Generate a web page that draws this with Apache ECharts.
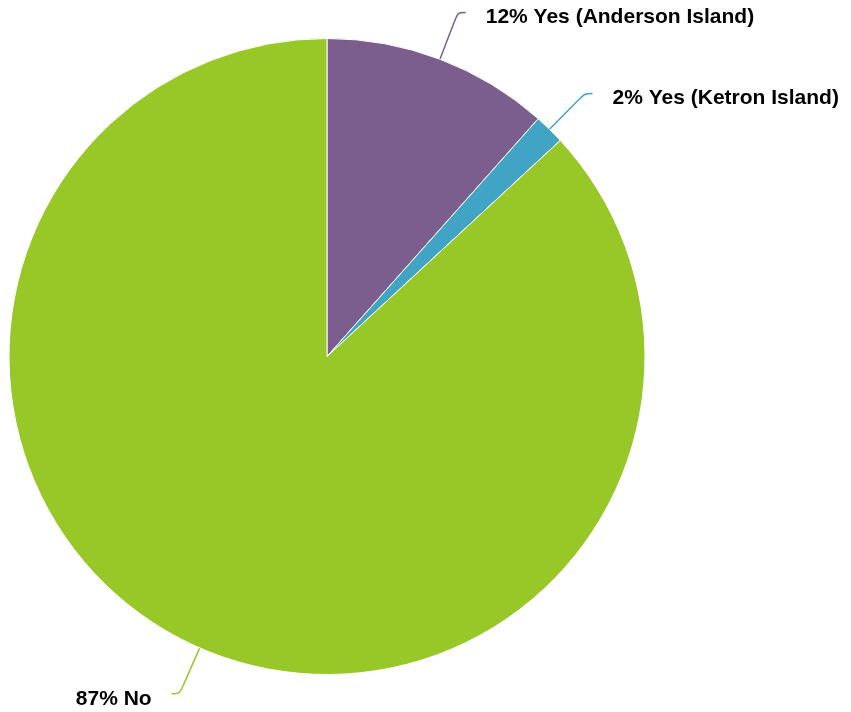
<!DOCTYPE html>
<html>
<head>
<meta charset="utf-8">
<script src="https://cdn.jsdelivr.net/npm/echarts@6/dist/echarts.min.js"></script>
<style>
html,body{margin:0;padding:0;background:#fff;}
#chart{width:851px;height:712px;}
</style>
</head>
<body>
<div id="chart"></div>
<script>
var categories = ['Yes (Anderson Island)', 'Yes (Ketron Island)', 'No'];
var values = [11.56, 1.55, 86.89];
var colors = ['#7b5e8e', '#42a4c4', '#97c828'];

var chart = echarts.init(document.getElementById('chart'));
chart.setOption({
  animation: false,
  series: [{
    type: 'pie',
    center: [327, 356.5],
    radius: 318,
    startAngle: 90,
    clockwise: true,
    avoidLabelOverlap: false,
    data: categories.map(function (c, i) {
      return { name: c, value: values[i], itemStyle: { color: colors[i] } };
    }),
    itemStyle: { borderColor: '#ffffff', borderWidth: 1 },
    label: {
      show: true,
      position: 'outside',
      formatter: function (p) { return Math.round(p.percent) + '% ' + p.name; },
      fontFamily: 'Liberation Sans, Arial, sans-serif',
      fontWeight: 'bold',
      fontSize: 21,
      color: '#000',
      offset: [0, 5],
      distanceToLabelLine: 20
    },
    labelLine: {
      show: true,
      length: 50,
      length2: 8,
      smooth: true,
      lineStyle: { width: 1.5 }
    },
    emphasis: { disabled: true }
  }]
});
</script>
</body>
</html>
